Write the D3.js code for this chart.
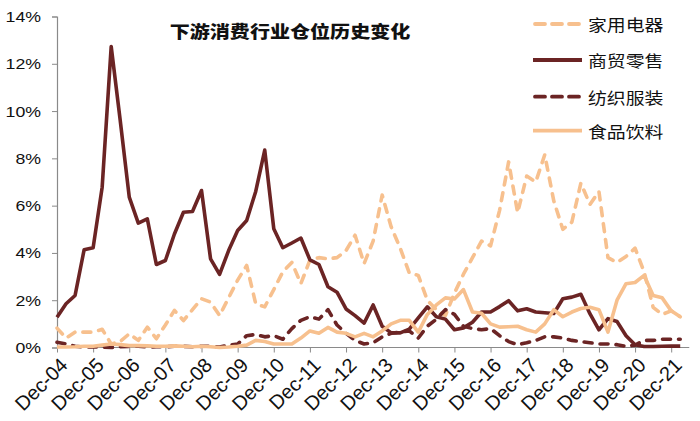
<!DOCTYPE html>
<html><head><meta charset="utf-8">
<script src="https://cdn.jsdelivr.net/npm/d3@7/dist/d3.min.js"></script>
<style>body{margin:0;background:#fff}svg{display:block}</style>
</head><body><svg id="c" width="700" height="421"></svg>
<script>
const title = "下游消费行业仓位历史变化";
const seriesNames = ["家用电器", "商贸零售", "纺织服装", "食品饮料"];
const xTickLabels = ["Dec-04","Dec-05","Dec-06","Dec-07","Dec-08","Dec-09","Dec-10","Dec-11","Dec-12","Dec-13","Dec-14","Dec-15","Dec-16","Dec-17","Dec-18","Dec-19","Dec-20","Dec-21"];
const yTickValues = [0, 2, 4, 6, 8, 10, 12, 14];
// quarterly positions (%), Dec-04 .. Mar-22
const appliance = [0.82,0.4,0.65,0.65,0.65,0.77,0.15,0.25,0.58,0.3,0.86,0.37,0.95,1.57,1.14,1.6,2.06,1.92,1.35,2.1,2.85,3.47,1.85,1.72,2.45,3.2,3.6,2.7,3.7,3.8,3.75,3.8,4.1,4.75,3.55,4.5,6.45,5.1,4.2,3.15,3.05,2.0,1.6,1.35,2.3,3.1,3.8,4.5,4.3,5.8,7.85,5.7,7.25,7.0,8.15,6.2,5.0,5.3,6.95,6.05,6.6,3.8,3.6,3.85,4.2,3.2,1.7,1.4,1.55,1.3];
const retail = [1.28,1.85,2.2,4.13,4.22,6.78,12.73,9.6,6.36,5.26,5.44,3.51,3.68,4.8,5.72,5.75,6.64,3.75,3.09,4.1,4.95,5.37,6.6,8.35,5.02,4.22,4.42,4.63,3.71,3.51,2.57,2.34,1.63,1.35,1.03,1.8,0.9,0.62,0.62,0.78,1.25,1.72,1.3,1.2,0.75,0.83,1.07,1.5,1.5,1.73,1.98,1.55,1.64,1.5,1.47,1.44,2.06,2.13,2.25,1.43,0.75,1.22,1.1,0.5,0.12,0.04,0.04,0.05,0.06,0.06];
const textile = [0.22,0.15,0.05,0.02,0.02,0.02,0.0,0.03,0.05,0.05,0.02,0.03,0.03,0.05,0.05,0.03,0.05,0.05,0.02,0.1,0.15,0.5,0.55,0.45,0.5,0.35,0.8,1.15,1.3,1.2,1.6,0.95,0.6,0.3,0.15,0.2,0.45,0.6,0.65,0.7,0.4,0.9,1.2,1.6,1.4,0.9,0.8,0.75,0.8,0.5,0.25,0.12,0.2,0.3,0.45,0.45,0.4,0.3,0.25,0.2,0.15,0.15,0.12,0.05,0.1,0.3,0.3,0.35,0.35,0.35];
const food = [0.02,0.02,0.03,0.05,0.05,0.1,0.15,0.12,0.08,0.08,0.07,0.05,0.05,0.07,0.05,0.03,0.05,0.03,0.0,0.02,0.05,0.1,0.3,0.25,0.15,0.15,0.15,0.4,0.7,0.6,0.85,0.65,0.6,0.45,0.6,0.45,0.7,1.0,1.15,1.15,0.65,1.4,1.8,2.1,2.05,2.45,1.5,1.45,1.0,0.86,0.88,0.9,0.75,0.65,1.0,1.6,1.3,1.5,1.65,1.7,1.6,0.65,2.0,2.7,2.75,3.05,2.2,2.1,1.55,1.3];

const DARK = "#6b2424", LIGHT = "#f7c08e";
const series = [
  {name: seriesNames[0], values: appliance, color: LIGHT, dash: true},
  {name: seriesNames[1], values: retail, color: DARK, dash: false},
  {name: seriesNames[2], values: textile, color: DARK, dash: true},
  {name: seriesNames[3], values: food, color: LIGHT, dash: false}
];

const SX = 1.18; // horizontal stretch of the original picture
const svg = d3.select("#c");
const x = d3.scaleLinear().domain([0, 68]).range([57, 671.2]);
const y = d3.scaleLinear().domain([0, 14]).range([347.5, 16.5]);
const font = "'Liberation Sans', Arial, sans-serif";
const cjk = "'Noto Sans CJK SC', sans-serif";

function stext(g, tx, ty, str, anchor, size, weight, fam) {
  return g.append("text").attr("transform", `translate(${tx},${ty}) scale(${SX},1)`)
    .attr("text-anchor", anchor).attr("dominant-baseline", "central")
    .attr("font-family", fam).attr("font-size", size).attr("font-weight", weight)
    .attr("fill", "#111").text(str);
}

// y axis
const yAxis = svg.append("g").attr("transform", "translate(57,0)")
  .call(d3.axisLeft(y).tickValues(yTickValues).tickSize(5).tickFormat(""));
yAxis.select(".domain").attr("stroke", "#8a8a8a").attr("stroke-width", 1.2);
yAxis.selectAll(".tick line").attr("stroke", "#8a8a8a");
yTickValues.forEach(v => stext(svg, 41, y(v), v + "%", "end", 15, "normal", font));

// x axis
const xAxisG = svg.append("g").attr("transform", `translate(0,${y(0)})`)
  .call(d3.axisBottom(x).tickValues(d3.range(0, 69, 4)).tickSize(5).tickSizeOuter(0).tickFormat(""));
xAxisG.select(".domain").attr("d", `M${x(0)},0H${x(70)}`).attr("stroke", "#8a8a8a").attr("stroke-width", 1.2);
xAxisG.selectAll(".tick line").attr("stroke", "#8a8a8a");
xTickLabels.forEach((t, k) => {
  svg.append("text").attr("transform", `translate(${x(k * 4) + 7},${y(0) + 14}) rotate(-45)`)
    .attr("text-anchor", "end").attr("dominant-baseline", "central")
    .attr("font-family", font).attr("font-size", 20).attr("fill", "#111").text(t);
});

// lines
const line = d3.line().x((d, i) => x(i)).y(d => y(d));
series.forEach(s => {
  svg.append("path").datum(s.values).attr("d", line)
    .attr("fill", "none").attr("stroke", s.color).attr("stroke-width", 3.6)
    .attr("stroke-linejoin", "round").attr("stroke-linecap", s.dash ? "round" : "butt")
    .attr("stroke-dasharray", s.dash ? "8,8" : null);
});

// title
stext(svg, 290, 30, title, "middle", 17, "900", cjk);

// legend
const legY = [24, 60, 96.7, 130.7];
series.forEach((s, i) => {
  svg.append("line").attr("x1", s.dash ? 535 : 533).attr("x2", 582).attr("y1", legY[i]).attr("y2", legY[i])
    .attr("stroke", s.color).attr("stroke-width", 3.8)
    .attr("stroke-linecap", s.dash ? "round" : "butt").attr("stroke-dasharray", s.dash ? "10,7" : null);
  stext(svg, 588, legY[i], s.name, "start", 16, "normal", cjk);
});
</script></body></html>
